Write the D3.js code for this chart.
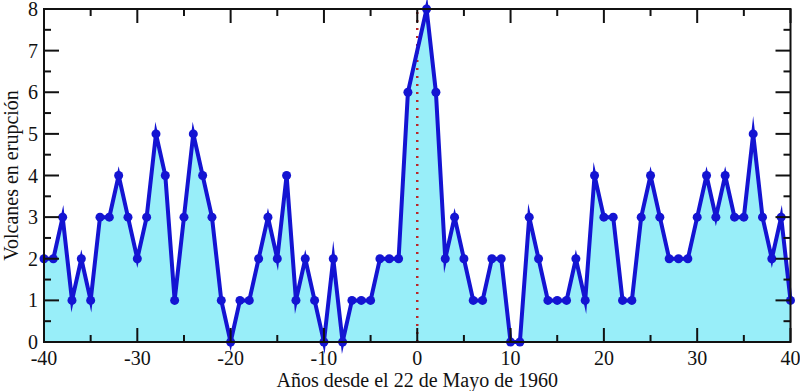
<!DOCTYPE html>
<html>
<head>
<meta charset="utf-8">
<script src="https://cdn.jsdelivr.net/npm/d3@7"></script>
<style>
  body { margin: 0; background: #fff; }
  text { font-family: "Liberation Serif", "DejaVu Serif", serif; fill: #111; }
</style>
</head>
<body>
<script>
const width = 800;
const height = 391;
const margin = { top: 9, right: 9.5, bottom: 49, left: 44 };
const innerW = width - margin.left - margin.right;
const innerH = height - margin.top - margin.bottom;

// years relative to 22 May 1960 (no point at year 0)
const years = [
  -40, -39, -38, -37, -36, -35, -34, -33, -32, -31,
  -30, -29, -28, -27, -26, -25, -24, -23, -22, -21,
  -20, -19, -18, -17, -16, -15, -14, -13, -12, -11,
  -10, -9, -8, -7, -6, -5, -4, -3, -2, -1,
  1, 2, 3, 4, 5, 6, 7, 8, 9, 10,
  11, 12, 13, 14, 15, 16, 17, 18, 19, 20,
  21, 22, 23, 24, 25, 26, 27, 28, 29, 30,
  31, 32, 33, 34, 35, 36, 37, 38, 39, 40
];
const volcanoes = [
  2, 2, 3, 1, 2, 1, 3, 3, 4, 3,
  2, 3, 5, 4, 1, 3, 5, 4, 3, 1,
  0, 1, 1, 2, 3, 2, 4, 1, 2, 1,
  0, 2, 0, 1, 1, 1, 2, 2, 2, 6,
  8, 6, 2, 3, 2, 1, 1, 2, 2, 0,
  0, 3, 2, 1, 1, 1, 2, 1, 4, 3,
  3, 1, 1, 3, 4, 3, 2, 2, 2, 3,
  4, 3, 4, 3, 3, 5, 3, 2, 3, 1
];
const xTicks = [-40, -30, -20, -10, 0, 10, 20, 30, 40];
const xMinor = [-35, -25, -15, -5, 5, 15, 25, 35];
const yTicks = [0, 1, 2, 3, 4, 5, 6, 7, 8];
const yMinor = [0.5, 1.5, 2.5, 3.5, 4.5, 5.5, 6.5, 7.5];
const xTitle = "Años desde el 22 de Mayo de 1960";
const yTitle = "Volcanes en erupción";

const data = years.map((y, i) => ({ x: y, v: volcanoes[i] }));

const svg = d3.select("body").append("svg")
    .attr("width", width)
    .attr("height", height);

const g = svg.append("g")
    .attr("transform", `translate(${margin.left},${margin.top})`);

const x = d3.scaleLinear().domain([-40, 40]).range([0, innerW]);
const y = d3.scaleLinear().domain([0, 8]).range([innerH, 0]);

// filled area
g.append("path")
    .datum(data)
    .attr("fill", "#98eef9")
    .attr("d", d3.area().x(d => x(d.x)).y0(y(0)).y1(d => y(d.v)));

// red dotted line at year 0
g.append("line")
    .attr("x1", x(0)).attr("x2", x(0))
    .attr("y1", y(0)).attr("y2", y(8))
    .attr("stroke", "#b82828")
    .attr("stroke-width", 2.5)
    .attr("stroke-dasharray", "2,6");

// series line
g.append("path")
    .datum(data)
    .attr("fill", "none")
    .attr("stroke", "#1414d2")
    .attr("stroke-width", 4)
    .attr("stroke-linejoin", "miter")
    .attr("stroke-miterlimit", 10)
    .attr("d", d3.line().x(d => x(d.x)).y(d => y(d.v)));

g.selectAll(".dot")
    .data(data)
    .enter().append("circle")
    .attr("class", "dot")
    .attr("cx", d => x(d.x))
    .attr("cy", d => y(d.v))
    .attr("r", 4.5)
    .attr("fill", "#1414d2");

// ticks on all four sides, pointing inward
const tickColor = "#111";
function ticks(vals, len, side) {
    vals.forEach(t => {
        const l = g.append("line").attr("stroke", tickColor).attr("stroke-width", 2);
        if (side === "bottom") l.attr("x1", x(t)).attr("x2", x(t)).attr("y1", innerH).attr("y2", innerH - len);
        if (side === "top") l.attr("x1", x(t)).attr("x2", x(t)).attr("y1", 0).attr("y2", len);
        if (side === "left") l.attr("x1", 0).attr("x2", len).attr("y1", y(t)).attr("y2", y(t));
        if (side === "right") l.attr("x1", innerW).attr("x2", innerW - len).attr("y1", y(t)).attr("y2", y(t));
    });
}
ticks(xTicks, 14, "bottom");
ticks(xMinor, 7, "bottom");
ticks(xTicks, 14, "top");
ticks(xMinor, 7, "top");
ticks(yTicks, 15, "left");
ticks(yMinor, 7, "left");
ticks(yTicks, 15, "right");
ticks(yMinor, 7, "right");

// frame
g.append("rect")
    .attr("width", innerW)
    .attr("height", innerH)
    .attr("fill", "none")
    .attr("stroke", "#111")
    .attr("stroke-width", 2);

// tick labels
g.selectAll(".xlab")
    .data(xTicks)
    .enter().append("text")
    .attr("class", "xlab")
    .attr("x", d => x(d))
    .attr("y", innerH + 23)
    .attr("text-anchor", "middle")
    .style("font-size", "20px")
    .text(d => d);

g.selectAll(".ylab")
    .data(yTicks)
    .enter().append("text")
    .attr("class", "ylab")
    .attr("x", -6)
    .attr("y", d => y(d))
    .attr("dy", "0.35em")
    .attr("text-anchor", "end")
    .style("font-size", "20px")
    .text(d => d);

// axis titles
svg.append("text")
    .attr("x", margin.left + innerW / 2)
    .attr("y", 387)
    .attr("text-anchor", "middle")
    .style("font-size", "20px")
    .text(xTitle);

svg.append("text")
    .attr("transform", `translate(18,${margin.top + innerH / 2}) rotate(-90)`)
    .attr("text-anchor", "middle")
    .style("font-size", "20px")
    .text(yTitle);
</script>
</body>
</html>
